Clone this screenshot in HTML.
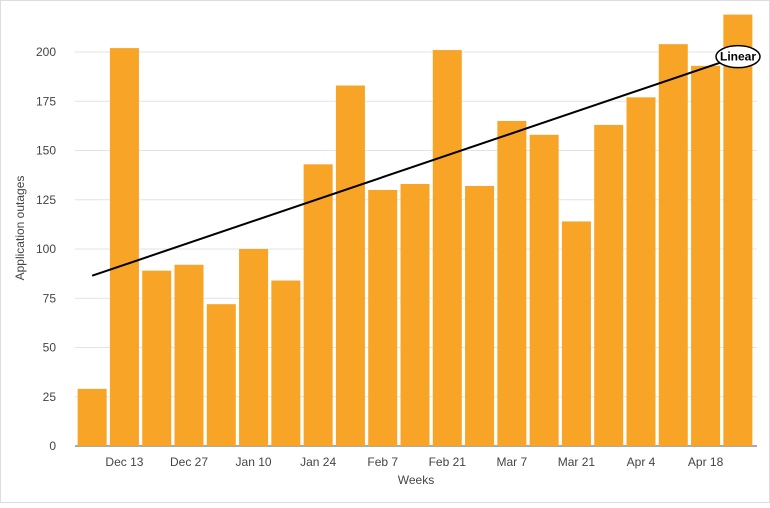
<!DOCTYPE html>
<html><head><meta charset="utf-8"><style>
body{margin:0;background:#fff;font-family:"Liberation Sans",sans-serif}
svg text{font-family:"Liberation Sans",sans-serif}
</style></head><body>
<svg id="chart" width="770" height="503">
<rect x="0.5" y="0.5" width="769" height="502" fill="#fff" stroke="#ddd"/>
<g id="grid"></g><g id="bars"></g><g id="axes"></g><g id="trend"></g>
<text x="416" y="484" font-size="12" fill="#444" text-anchor="middle">Weeks</text>
<text transform="translate(24,228) rotate(-90)" font-size="12" fill="#444" text-anchor="middle">Application outages</text>
</svg>
<script>
const categories=["Dec 6","Dec 13","Dec 20","Dec 27","Jan 3","Jan 10","Jan 17","Jan 24","Jan 31","Feb 7","Feb 14","Feb 21","Feb 28","Mar 7","Mar 14","Mar 21","Mar 28","Apr 4","Apr 11","Apr 18","Apr 25"];
const values=[29,202,89,92,72,100,84,143,183,130,133,201,132,165,158,114,163,177,204,193,219];
const yTicks=[0,25,50,75,100,125,150,175,200];
const xLabelIdx=[1,3,5,7,9,11,13,15,17,19];
const NS="http://www.w3.org/2000/svg";
const L=76,R=754,T=15,B=446,yMax=218.8;
const step=(R-L)/categories.length;
const xC=i=>L+step*(i+0.5);
const y=v=>B-(v/yMax)*(B-T);
function mk(t,a,p){const e=document.createElementNS(NS,t);for(const k in a)e.setAttribute(k,a[k]);document.getElementById(p).appendChild(e);return e;}
yTicks.forEach(t=>{
 const l=mk('line',{x1:L-1,x2:R+3,y1:y(t),y2:y(t),stroke:t===0?'#555':'#e3e3e3'},'grid');
 
 
 const tx=mk('text',{x:56,y:y(t)+4,'font-size':12,fill:'#444','text-anchor':'end'},'axes');tx.textContent=t;
 
 
});
values.forEach((v,i)=>{
 const r=mk('rect',{x:xC(i)-14.5,y:y(v),width:29,height:B-y(v),fill:'#f8a427'},'bars');
 
 
});
xLabelIdx.forEach(i=>{
 const tx=mk('text',{x:xC(i),y:466,'font-size':12,fill:'#444','text-anchor':'middle'},'axes');tx.textContent=categories[i];
 
 
});
// linear regression
const n=values.length;let sx=0,sy=0,sxy=0,sxx=0;
values.forEach((v,i)=>{sx+=i;sy+=v;sxy+=i*v;sxx+=i*i;});
const m=(n*sxy-sx*sy)/(n*sxx-sx*sx),b=(sy-m*sx)/n;
const tl=mk('line',{x1:xC(0),y1:y(b),x2:xC(n-1),y2:y(b+m*(n-1)),stroke:'#000','stroke-width':2},'trend');


const ey=Math.max(y(b+m*(n-1)),30);
const el=mk('ellipse',{cx:738,cy:ey,rx:22,ry:11,fill:'#fff',stroke:'#000','stroke-width':1.5},'trend');


const lt=mk('text',{x:738,y:ey+4,'font-size':12,'font-weight':'bold','text-anchor':'middle',fill:'#000'},'trend');lt.textContent='Linear';


</script>
</body></html>
